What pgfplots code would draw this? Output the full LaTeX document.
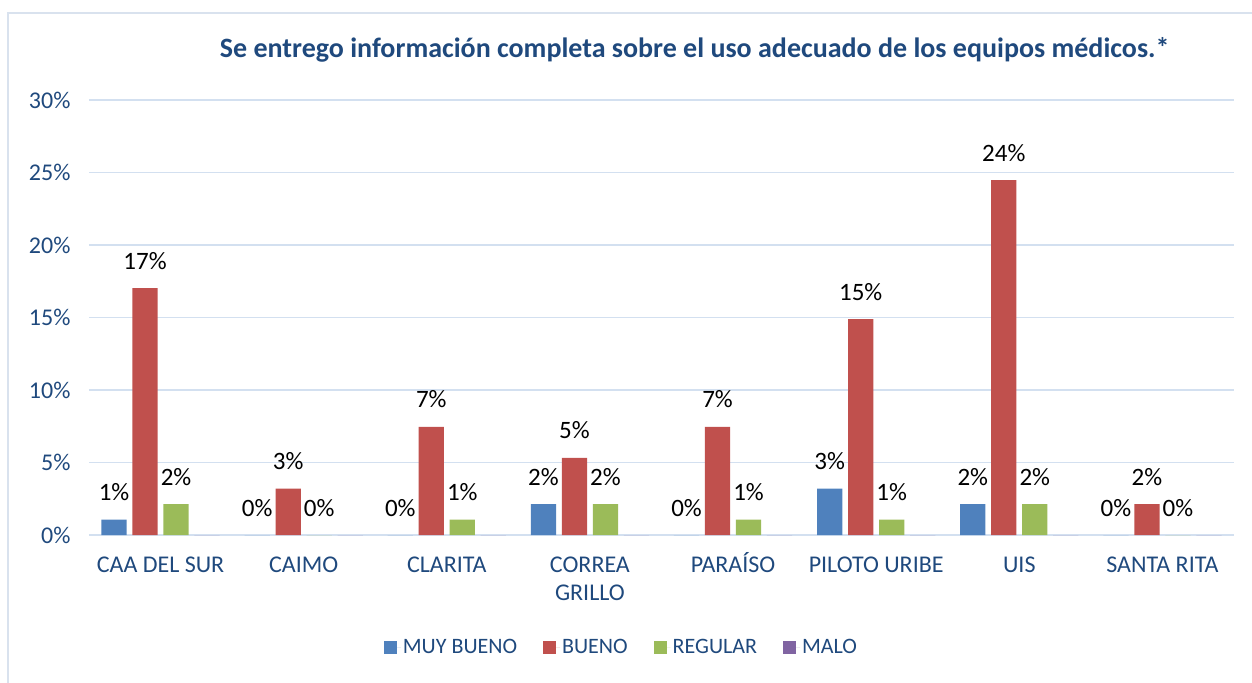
\documentclass[border=0pt]{standalone}
\usepackage{pgfplots}
\pgfplotsset{compat=1.18}
\usepackage{fontspec}
\setmainfont{Carlito}
\definecolor{cMB}{HTML}{4F81BD}
\definecolor{cB}{HTML}{C0504D}
\definecolor{cR}{HTML}{9BBB59}
\definecolor{cM}{HTML}{8064A2}
\definecolor{txtblue}{HTML}{1F497D}
\definecolor{gridblue}{HTML}{D3E0F0}
\definecolor{framec}{HTML}{D9E2EE}
\begin{document}
\begin{tikzpicture}
\path[use as bounding box] (-89bp,-148bp) rectangle (1163bp,535bp);
\draw[framec, line width=1.2bp] (-81bp,-150bp) -- (-81bp,522bp) -- (1165bp,522bp);
\begin{axis}[
    at={(0,0)}, anchor=south west,
    scale only axis,
    width=1145bp, height=435bp,
    ybar=5.7bp, bar width=25.3bp,
    xmin=-0.5, xmax=7.5,
    ymin=0, ymax=30,
    enlargelimits=false,
    ytick={0,5,...,30},
    xtick={0,...,7},
    xticklabels={CAA DEL SUR,CAIMO,CLARITA,CORREA\\GRILLO,PARA\smash{Í}SO,PILOTO URIBE,UIS,SANTA RITA},
    yticklabel={\pgfmathprintnumber{\tick}\%},
    /pgf/number format/assume math mode=true,
    major tick length=0pt,
    axis line style={draw=none},
    ymajorgrids, grid style={gridblue, line width=1.2bp},
    tick label style={font=\fontsize{24bp}{28.5bp}\selectfont, text=txtblue},
    yticklabel style={xshift=-15bp},
    xticklabel style={align=center, yshift=-18bp},
    title={\textbf{Se entrego información completa sobre el uso adecuado de los equipos médicos.*}},
    title style={at={(0.529,1.083)}, anchor=base, font=\fontsize{28bp}{32bp}\selectfont, text=txtblue},
    nodes near coords style={font=\fontsize{25bp}{28bp}\selectfont, text=black, anchor=base, yshift=19bp, /pgf/number format/.cd, fixed, precision=0},
    legend style={draw=none, at={(0.465,-0.2575)}, anchor=center, legend columns=-1,
        font=\fontsize{22bp}{26bp}\selectfont, text=txtblue,
        /tikz/every even column/.append style={column sep=24bp}},
    legend image code/.code={\fill[#1] (0bp,-6.5bp) rectangle (13bp,6.5bp); \path (13bp,0bp) -- (17bp,0bp);},
    ]
% MUY BUENO
\addplot[fill=cMB, draw=none, nodes near coords={\pgfmathprintnumber{\pgfplotspointmeta}\%}]
    coordinates {(0,1.06) (1,0) (2,0) (3,2.13) (4,0) (5,3.19) (6,2.13) (7,0)};
% BUENO
\addplot[fill=cB, draw=none, nodes near coords={\pgfmathprintnumber{\pgfplotspointmeta}\%}]
    coordinates {(0,17.02) (1,3.19) (2,7.45) (3,5.32) (4,7.45) (5,14.89) (6,24.47) (7,2.13)};
% REGULAR
\addplot[fill=cR, draw=none, nodes near coords={\pgfmathprintnumber{\pgfplotspointmeta}\%}]
    coordinates {(0,2.13) (1,0) (2,1.06) (3,2.13) (4,1.06) (5,1.06) (6,2.13) (7,0)};
% MALO
\addplot[fill=cM, draw=none]
    coordinates {(0,0) (1,0) (2,0) (3,0) (4,0) (5,0) (6,0) (7,0)};
\legend{MUY BUENO,BUENO,REGULAR,MALO}
\end{axis}
\end{tikzpicture}
\end{document}
